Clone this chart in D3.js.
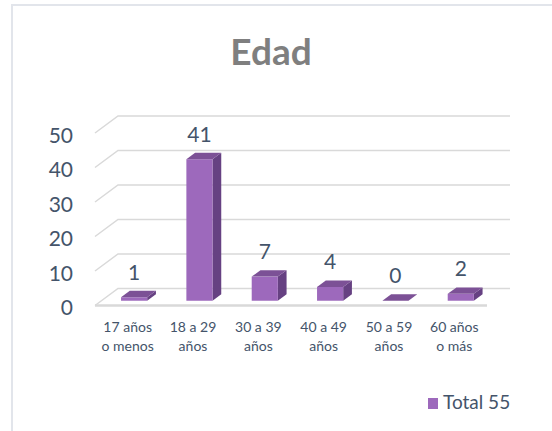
<!DOCTYPE html>
<html>
<head>
<meta charset="utf-8">
<script src="https://cdn.jsdelivr.net/npm/d3@7"></script>
<style>
  body { margin: 0; background: #fff; }
  svg { display: block; font-family: Lato, "Open Sans", sans-serif; }
</style>
</head>
<body>
<svg id="canvas" width="552" height="431"></svg>
<script>
// Datos
const categorias = [["17 años", "o menos"], ["18 a 29", "años"], ["30 a 39", "años"],
                    ["40 a 49", "años"], ["50 a 59", "años"], ["60 años", "o más"]];
const valores = [1, 41, 7, 4, 0, 2];
const marcas = [0, 10, 20, 30, 40, 50];
const leyenda = "Total 55";

const svg = d3.select("#canvas");

// Profundidad del "piso" 3D
const profX = 23, profY = 17;
const proy = (x, y, t) => [x + profX * t, y - profY * t];

const x = d3.scaleBand()
    .domain(d3.range(categorias.length))
    .range([95, 487])
    .paddingInner(0.6)
    .paddingOuter(0.3);

const y = d3.scaleLinear().domain([0, 50]).range([305.5, 133]);

// Marco del gráfico
svg.append("rect")
    .attr("x", 12).attr("y", 5)
    .attr("width", 600).attr("height", 500)
    .attr("fill", "none")
    .attr("stroke", "#e2e5eb")
    .attr("stroke-width", 2);

// Título
svg.append("text")
    .attr("x", 271).attr("y", 65)
    .attr("text-anchor", "middle")
    .attr("font-size", 37)
    .attr("font-weight", "bold")
    .attr("fill", "#7f7f7f")
    .text("Edad");

// Líneas de cuadrícula (pared de fondo + pared izquierda)
const x0 = 95, x1 = 487;
marcas.forEach(m => {
    const yf = y(m);
    const a = proy(x0, yf, 0), b = proy(x0, yf, 1), c = proy(x1, yf, 1);
    svg.append("path")
        .attr("d", `M${a[0]},${a[1]} L${b[0]},${b[1]} L${c[0]},${c[1]}`)
        .attr("fill", "none")
        .attr("stroke", "#d9d9d9")
        .attr("stroke-width", 1.5);
});
// Borde frontal del piso
svg.append("line")
    .attr("x1", x0).attr("x2", x1)
    .attr("y1", y(0)).attr("y2", y(0))
    .attr("stroke", "#d9d9d9")
    .attr("stroke-width", 2.5);

// Etiquetas del eje Y
svg.selectAll(".ytick")
    .data(marcas)
    .enter()
    .append("text")
    .attr("x", 73)
    .attr("y", d => y(d) + 2)
    .attr("dy", "0.36em")
    .attr("text-anchor", "end")
    .attr("font-size", 21)
    .attr("fill", "#44546a")
    .text(d => d);

// Barras 3D
const t0 = 0.28, t1 = 0.66;
const poly = pts => "M" + pts.map(p => p.join(",")).join("L") + "Z";

valores.forEach((v, i) => {
    const xl = x(i), xr = x(i) + x.bandwidth();
    const yb = y(0), yt = y(v);
    const fl = proy(xl, yb, t0), fr = proy(xr, yb, t0);
    const tl = proy(xl, yt, t0), tr = proy(xr, yt, t0);
    const bl = proy(xl, yt, t1), br = proy(xr, yt, t1);
    const sb = proy(xr, yb, t1);
    const g = svg.append("g");
    // lado
    g.append("path").attr("d", poly([fr, tr, br, sb])).attr("fill", "#664182");
    // frente
    g.append("path").attr("d", poly([fl, fr, tr, tl])).attr("fill", "#9d69bc");
    // tapa
    g.append("path").attr("d", poly([tl, tr, br, bl])).attr("fill", "#7c5196");

    // etiqueta de valor
    svg.append("text")
        .attr("x", (tl[0] + tr[0]) / 2)
        .attr("y", bl[1] - 11)
        .attr("text-anchor", "middle")
        .attr("font-size", 21)
        .attr("fill", "#44546a")
        .text(v);
});

// Etiquetas de categorías
const cat = svg.selectAll(".cat")
    .data(categorias)
    .enter()
    .append("text")
    .attr("text-anchor", "middle")
    .attr("font-size", 14)
    .attr("fill", "#44546a");
cat.append("tspan")
    .attr("x", (d, i) => x(i) + x.bandwidth() / 2)
    .attr("y", 332)
    .text(d => d[0]);
cat.append("tspan")
    .attr("x", (d, i) => x(i) + x.bandwidth() / 2)
    .attr("y", 351)
    .text(d => d[1]);

// Leyenda
svg.append("rect")
    .attr("x", 428).attr("y", 398)
    .attr("width", 10).attr("height", 11)
    .attr("fill", "#9d69bc");
svg.append("text")
    .attr("x", 443).attr("y", 409)
    .attr("font-size", 19)
    .attr("fill", "#44546a")
    .text(leyenda);
</script>
</body>
</html>
